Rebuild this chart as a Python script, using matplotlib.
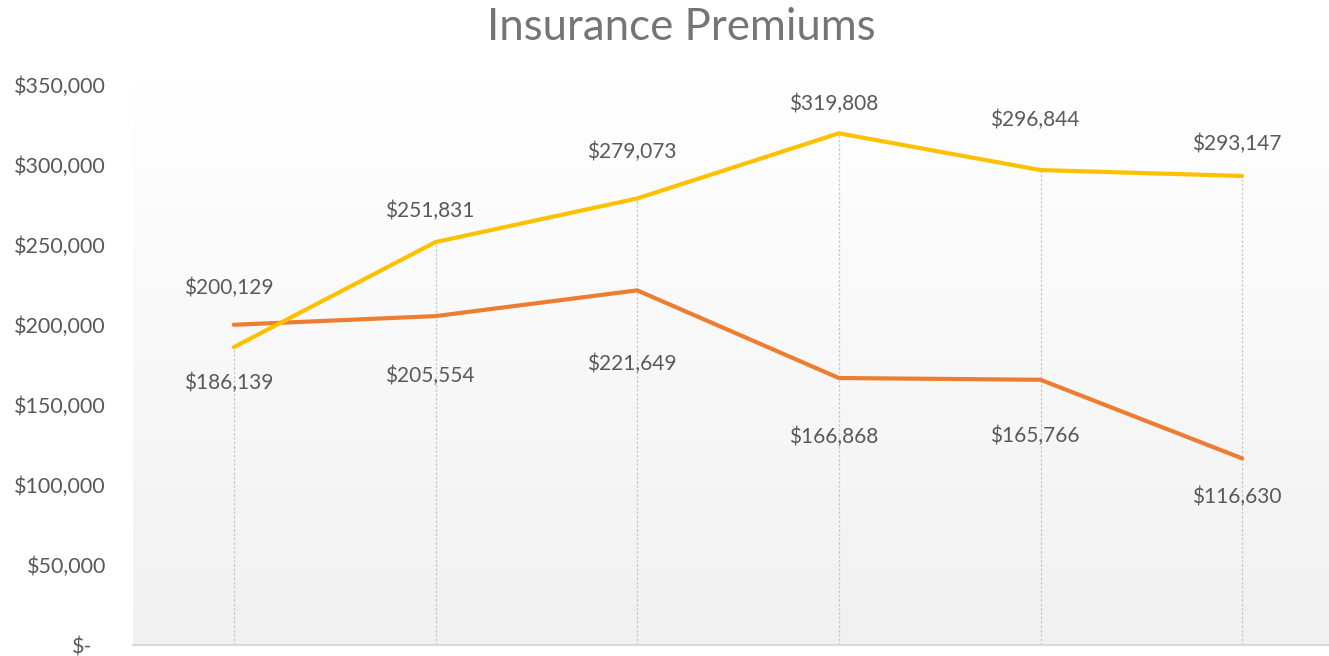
import matplotlib
matplotlib.use("Agg")
import matplotlib.pyplot as plt
import matplotlib.transforms as mtransforms
from matplotlib.colors import LinearSegmentedColormap
import numpy as np

categories = ["1", "2", "3", "4", "5", "6"]
yellow_vals = [186139, 251831, 279073, 319808, 296844, 293147]
orange_vals = [200129, 205554, 221649, 166868, 165766, 116630]
tick_vals = [0, 50000, 100000, 150000, 200000, 250000, 300000, 350000]
tick_labels = ["$-", "$50,000", "$100,000", "$150,000", "$200,000", "$250,000", "$300,000", "$350,000"]
# label offsets in pixels (dy, positive = up)
yellow_label_dy = [-36, 31, 47, 29, 50, 32]
orange_label_dy = [37, -60, -74, -59, -56, -38]

plt.rcParams['font.family'] = ['Lato', 'DejaVu Sans']
W, H = 1329, 656
fig = plt.figure(figsize=(W/100, H/100), dpi=100)
left, right, bottom, top = 133, 1343, 645, 85
ax = fig.add_axes([left/W, 1-bottom/H, (right-left)/W, (bottom-top)/H])
x = np.arange(len(categories))
n = len(categories)

# gradient background (white at top -> light grey at bottom)
grad = np.linspace(0, 1, 256).reshape(-1, 1)
cmap = LinearSegmentedColormap.from_list("g", ["#FFFFFF", "#F1F1F1"])
ax.imshow(grad, aspect='auto', cmap=cmap, origin='upper',
          extent=[-0.5, n-0.5, 0, 350000], zorder=0)
ax.set_xlim(-0.5, n-0.5)
ax.set_ylim(0, 350000)

# drop lines
ax.vlines(x, 0, yellow_vals, colors="#C8C8C8", linestyles=(0, (2, 1.5)), linewidth=0.9, zorder=1)

ax.plot(x, orange_vals, color="#ED7D31", lw=3.0, solid_capstyle='round', zorder=3)
ax.plot(x, yellow_vals, color="#FFC000", lw=3.0, solid_capstyle='round', zorder=4)

for xi, v, dy in zip(x, yellow_vals, yellow_label_dy):
    ax.annotate(f"${v:,}", (xi, v), xytext=(-4, dy*0.72), textcoords='offset points',
                ha='center', va='center', fontsize=15, color="#595959", zorder=5)
for xi, v, dy in zip(x, orange_vals, orange_label_dy):
    ax.annotate(f"${v:,}", (xi, v), xytext=(-4, dy*0.72), textcoords='offset points',
                ha='center', va='center', fontsize=15, color="#595959", zorder=5)

ax.set_yticks(tick_vals)
ax.set_yticklabels(tick_labels)
ax.tick_params(axis='y', length=0, pad=19.5, labelsize=15.5, labelcolor="#595959")
ax.set_xticks([])
for s in ['top', 'right', 'left']:
    ax.spines[s].set_visible(False)
ax.spines['bottom'].set_color("#D9D9D9")
ax.spines['bottom'].set_linewidth(1.5)

lbls = ax.get_yticklabels()
lbls[0].set_transform(lbls[0].get_transform() + mtransforms.Affine2D().translate(-13, 0))

fig.text(681/W, 1-27/H, "Insurance Premiums", ha='center', va='center', fontsize=31.5, color="#757575")

fig.savefig("out.png", dpi=100)
